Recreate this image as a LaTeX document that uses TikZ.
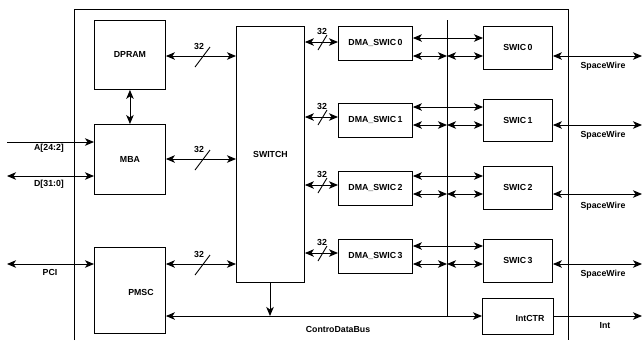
\documentclass[tikz,border=0pt]{standalone}
\usepackage{fontspec}
\setmainfont{Liberation Sans}
\usetikzlibrary{arrows.meta,calc}
\begin{document}
\begin{tikzpicture}[x=1bp,y=-1bp,
  tip/.tip={Stealth[length=9bp,width=7.5bp,inset=2.5bp]},
  txt/.style={font=\bfseries\fontsize{8.8}{10}\selectfont},
  box/.style={draw, line width=0.9bp, inner sep=0pt, anchor=north west, txt},
  lbl/.style={inner sep=0pt, txt},
  ln/.style={line width=0.9bp},
  dar/.style={ln, tip-tip},
  sar/.style={ln, -tip},
  pics/bm/.style={code={
    \draw[ln] (-8,11) -- (7,-9);
    \node[lbl] (-t) at (-4,-10) {32};}},
  pics/sbm/.style={code={
    \draw[ln] (-5,8) -- (4,-7);
    \node[lbl] (-t) at (-1,-11) {32};}}
]
\useasboundingbox (0,0) rectangle (642,340);

% frame and inner divider
\draw[ln] (74,340) -- (74,9) -- (568,9) -- (568,340);
\coordinate (divtop) at (447,20);
\coordinate (divbot) at (447,316);
\draw[ln] (divtop) -- (divbot);

% boxes
\node[box, minimum width=71bp, minimum height=69bp] (dpram) at (94,20) {DPRAM};
\node[box, minimum width=71bp, minimum height=70bp] (mba) at (94,124) {MBA};
\node[box, minimum width=71bp, minimum height=86bp] (pmsc) at (94,247) {};
\node[lbl] (pmsct) at (141,292) {PMSC};
\node[box, minimum width=68bp, minimum height=256bp] (sw) at (236,26) {SWITCH};

\node[box, minimum width=74bp, minimum height=34bp] (d0) at (338,26) {DMA\_SWIC\,0};
\node[box, minimum width=74bp, minimum height=34bp] (d1) at (338,103) {DMA\_SWIC\,1};
\node[box, minimum width=74bp, minimum height=34bp] (d2) at (338,171) {DMA\_SWIC\,2};
\node[box, minimum width=74bp, minimum height=34bp] (d3) at (338,239) {DMA\_SWIC\,3};

\node[box, minimum width=69bp, minimum height=43bp] (s0) at (483,26) {SWIC\,0};
\node[box, minimum width=69bp, minimum height=42bp] (s1) at (483,99) {SWIC\,1};
\node[box, minimum width=69bp, minimum height=43bp] (s2) at (483,166) {SWIC\,2};
\node[box, minimum width=69bp, minimum height=43bp] (s3) at (483,239) {SWIC\,3};

\node[box, minimum width=71bp, minimum height=36bp] (ictr) at (482,298) {};
\node[lbl] (ictrt) at (530,318) {IntCTR};

% left side external signals
\coordinate (ain) at (7,142);
\coordinate (din) at (7,176);
\coordinate (pci) at (7,264);
\draw[sar] (ain) -- (mba.west |- ain);
\node[lbl] (al) at (49,148) {A[24:2]};
\draw[dar] (din) -- (mba.west |- din);
\node[lbl] (dl) at (49,184) {D[31:0]};
\draw[dar] (pci) -- (pmsc.west |- pci);
\node[lbl] (pl) at (50,272) {PCI};

% DPRAM - MBA
\draw[dar] (dpram.south) -- (mba.north);

% to switch
\draw[dar] (dpram.east |- 0,56) -- (sw.west |- 0,56);
\pic (m1) at (203,56) {bm};
\draw[dar] (mba.east |- 0,159) -- (sw.west |- 0,159);
\pic (m2) at (203,159) {bm};
\draw[dar] (pmsc.east |- 0,264) -- (sw.west |- 0,264);
\pic (m3) at (203,264) {bm};

% switch - DMA
\draw[dar] (sw.east |- 0,42) -- (d0.west |- 0,42);
\pic (n0) at (323,42) {sbm};
\draw[dar] (sw.east |- 0,117) -- (d1.west |- 0,117);
\pic (n1) at (323,117) {sbm};
\draw[dar] (sw.east |- 0,185) -- (d2.west |- 0,185);
\pic (n2) at (323,185) {sbm};
\draw[dar] (sw.east |- 0,253) -- (d3.west |- 0,253);
\pic (n3) at (323,253) {sbm};

% DMA - SWIC
\foreach \d/\s/\u/\l in {d0/s0/38/56, d1/s1/107/125, d2/s2/176/194, d3/s3/246/264}{
  \draw[dar] (\d.east |- 0,\u) -- (\s.west |- 0,\u);
  \draw[dar] (\d.east |- 0,\l) -- (divtop |- 0,\l);
  \draw[dar] (divtop |- 0,\l) -- (\s.west |- 0,\l);
}

% SpaceWire
\coordinate (sp0) at (642,56);
\coordinate (sp1) at (642,125);
\coordinate (sp2) at (642,194);
\coordinate (sp3) at (642,264);
\draw[dar] (s0.east |- sp0) -- (sp0);
\draw[dar] (s1.east |- sp1) -- (sp1);
\draw[dar] (s2.east |- sp2) -- (sp2);
\draw[dar] (s3.east |- sp3) -- (sp3);
\node[lbl] (w0) at (603,66) {SpaceWire};
\node[lbl] (w1) at (603,135) {SpaceWire};
\node[lbl] (w2) at (603,206) {SpaceWire};
\node[lbl] (w3) at (603,274) {SpaceWire};

% control data bus
\coordinate (bussw) at (270,316);
\draw[dar] (pmsc.east |- divbot) -- (ictr.west |- divbot);
\draw[sar] (sw.south -| bussw) -- (bussw);
\node[lbl] (busl) at (338,329) {ControDataBus};

% Int
\coordinate (intout) at (642,316);
\draw[sar] (ictr.east |- intout) -- (intout);
\node[lbl] (intl) at (605,326) {Int};
\end{tikzpicture}
\end{document}
